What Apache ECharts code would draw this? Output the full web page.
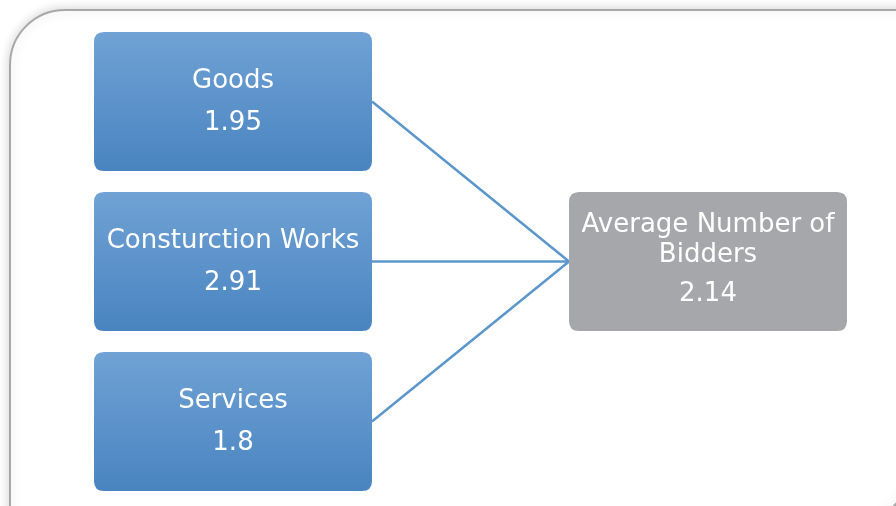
<!DOCTYPE html>
<html>
<head>
<meta charset="utf-8">
<script src="https://cdn.jsdelivr.net/npm/echarts@6/dist/echarts.min.js"></script>
<style>
html,body{margin:0;padding:0;background:#fff;}
#main{width:896px;height:506px;}
</style>
</head>
<body>
<div id="main"></div>
<script>
// contract types and their average bidders
var categories = ['Goods', 'Consturction Works', 'Services'];
var values = [1.95, 2.91, 1.8];
var totalLines = ['Average Number of', 'Bidders'];
var totalValue = 2.14;

// rounded box, 278 x 139 with small corners
var boxPath = 'path://M10,0 H268 Q278,0 278,10 V129 Q278,139 268,139 H10 Q0,139 0,129 V10 Q0,0 10,0 Z';
var boxSize = [278, 139];

var blueFill = new echarts.graphic.LinearGradient(0, 0, 0, 1, [
    {offset: 0, color: '#70a2d5'},
    {offset: 1, color: '#4984c0'}
]);

var nodes = [];
var links = [];
// node sits at the box edge, the box is shifted so links join the edges
for (var i = 0; i < categories.length; i++) {
    nodes.push({
        name: categories[i],
        value: [0, i],
        symbolOffset: [-boxSize[0] / 2, 0],
        itemStyle: {color: blueFill},
        label: {
            offset: [0, 1],
            formatter: '{a|' + categories[i] + '}\n{b|' + values[i] + '}'
        }
    });
    links.push({source: categories[i], target: 'total'});
}
nodes.push({
    name: 'total',
    value: [1, 1],
    symbolOffset: [boxSize[0] / 2, 0],
    itemStyle: {color: '#a6a7ab'},
    label: {
        offset: [0, 3],
        formatter: '{c|' + totalLines[0] + '}\n{c|' + totalLines[1] + '}\n{d|' + totalValue + '}'
    }
});

var option = {
    animation: false,
    graphic: [{
        type: 'rect',
        shape: {x: 10, y: 10, width: 900, height: 512, r: [55, 0, 55, 0]},
        style: {
            fill: '#fff',
            stroke: '#a8a8a8',
            lineWidth: 2,
            shadowBlur: 12,
            shadowColor: 'rgba(0,0,0,0.18)'
        },
        z: -10
    }],
    grid: {left: 372, right: 327, top: 101.5, bottom: 84.5},
    xAxis: {type: 'value', min: 0, max: 1, show: false},
    yAxis: {type: 'value', min: 0, max: 2, inverse: true, show: false},
    series: [{
        type: 'graph',
        coordinateSystem: 'cartesian2d',
        symbol: boxPath,
        symbolSize: boxSize,
        data: nodes,
        links: links,
        lineStyle: {color: '#5b96cc', width: 2.5, opacity: 1},
        label: {
            show: true,
            position: 'inside',
            color: '#fff',
            fontFamily: 'DejaVu Sans',
            rich: {
                a: {fontSize: 26, color: '#fff', fontFamily: 'DejaVu Sans', lineHeight: 42},
                b: {fontSize: 26, color: '#fff', fontFamily: 'DejaVu Sans', lineHeight: 42},
                c: {fontSize: 26, color: '#fff', fontFamily: 'DejaVu Sans', lineHeight: 30},
                d: {fontSize: 26, color: '#fff', fontFamily: 'DejaVu Sans', lineHeight: 48}
            }
        },
        emphasis: {disabled: true}
    }]
};

echarts.init(document.getElementById('main')).setOption(option);
</script>
</body>
</html>
